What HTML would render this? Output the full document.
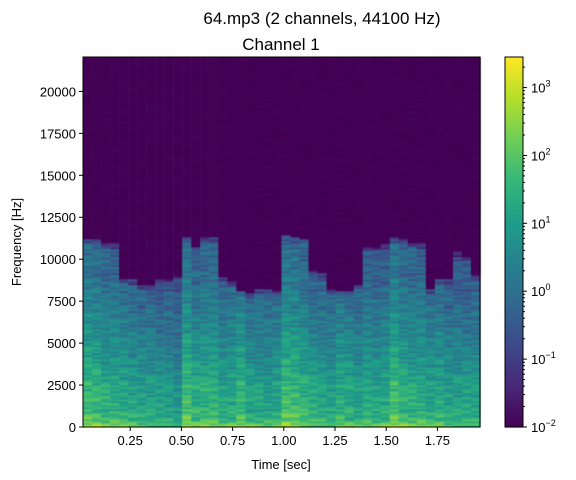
<!DOCTYPE html>
<html><head><meta charset="utf-8"><style>
body{margin:0;background:#fff;width:576px;height:480px;overflow:hidden;position:relative;font-family:"Liberation Sans","DejaVu Sans",sans-serif}
canvas,svg{position:absolute;left:0;top:0}
</style></head><body>
<canvas id="spec" width="576" height="480"></canvas>
<svg id="ax" width="576" height="480"></svg>
<script>
// ---- data ----
const timeRange = [0.0195, 1.958];
const freqMax = 22050;
// cutoff frequency (Hz) above which the spectrum is near-silent, per time frame
const cutoffHz = [11260,11260,10960,10960,8870,8780,8480,8480,8780,8780,9070,11360,10670,11320,11320,8980,8700,8080,7980,8180,8180,8080,11400,11320,11260,9270,9170,8180,8080,8080,8480,10730,10770,10960,11320,11260,11000,10960,8180,8870,8780,10470,10170,9070];
// relative loudness (log10 offset) per time frame
const frameLevel = [0.4,0.3,0.1,0.1,0,-0.1,-0.2,-0.2,-0.3,-0.3,-0.5,0.5,0.1,0.2,0.1,-0.1,0,0.3,-0.1,-0.1,-0.2,-0.1,0.5,0.4,0.2,0,-0.1,-0.2,0.1,0,-0.2,-0.1,-0.1,0,0.5,0.2,0.1,0.1,-0.1,0,-0.2,-0.2,-0.2,-0.2];
// spectral profile: log10 magnitude at 500 Hz steps from 0 to 11500 Hz
const profileLog = [2.3,1.6,1.4,1.3,1.2,1.2,1.0,0.9,0.8,0.7,0.6,0.45,0.35,0.25,0.15,0.05,-0.05,-0.15,-0.25,-0.3,-0.35,-0.4,-0.5,-0.6];
// streak texture offsets (log10) applied across rows
const streak = [0.3,-0.5,0.1,0.5,-0.2,-0.7,0.2,0,0.4,-0.3,0.1,-0.6,0.3,-0.1,0.5,-0.3,0];
const cbTicks = [-2,-1,0,1,2,3];
const xTicks = [0.25,0.5,0.75,1.0,1.25,1.5,1.75];
const yTicks = [0,2500,5000,7500,10000,12500,15000,17500,20000];
// ---- layout ----
const L=83,R=480,T=57,B=427, CBL=505,CBR=523;
const vmin=-2,vmax=3.45;
const xs=t=>L+(t-timeRange[0])/(timeRange[1]-timeRange[0])*(R-L);
const ys=f=>B-f/freqMax*(B-T);
const cy=v=>B-(v-vmin)/(vmax-vmin)*(B-T);
const vir=[[68,1,84],[72,40,120],[62,74,137],[49,104,142],[38,130,142],[31,158,137],[53,183,121],[110,206,88],[181,222,43],[253,231,37]];
function col(u){u=Math.max(0,Math.min(1,u))*(vir.length-1);const i=Math.min(vir.length-2,Math.floor(u)),f=u-i;
 return vir[i].map((c,k)=>Math.round(c+(vir[i+1][k]-c)*f));}
const ctx=document.getElementById('spec').getContext('2d');
const nF=cutoffHz.length, cw=(R-L)/nF, rh=2;
for(let c=0;c<nF;c++){
 for(let r=0;r*rh<(B-T);r++){
  const y=B-(r+1)*rh, f=(r*rh+1)/(B-T)*freqMax;
  let v;
  const s=streak[(r*5+c*c*3+(r>>2)*c)%streak.length];
  if(f>cutoffHz[c]) v=-2+Math.max(0,s)*0.12;
  else{const p=f/500,i=Math.min(profileLog.length-2,Math.floor(p)),fr=p-i;
   v=profileLog[i]+(profileLog[i+1]-profileLog[i])*fr+frameLevel[c]+s*0.8;
   if(cutoffHz[c]-f<300) v-=0.6;
   if(Math.abs(f-2600)<35) v+=0.3;}
  const k=col((v-vmin)/(vmax-vmin));
  ctx.fillStyle=`rgb(${k})`;
  ctx.fillRect(L+c*cw,y,cw+0.6,rh+0.3);
 }
}
for(let y=T;y<B;y++){const k=col((B-y)/(B-T));ctx.fillStyle=`rgb(${k})`;ctx.fillRect(CBL,y,CBR-CBL,1.2);}
// ---- svg axes ----
const svg=document.getElementById('ax');const NS='http://www.w3.org/2000/svg';
function mk(tag,attrs,txt,name){const e=document.createElementNS(NS,tag);for(const a in attrs)e.setAttribute(a,attrs[a]);if(txt!=null)e.textContent=txt;
 
 
 svg.appendChild(e);return e;}
mk('rect',{x:L,y:T,width:R-L,height:B-T,fill:'none',stroke:'#000','stroke-width':1},null,'plot-frame');
mk('rect',{x:CBL,y:T,width:CBR-CBL,height:B-T,fill:'none',stroke:'#000','stroke-width':1},null,'colorbar-frame');
xTicks.forEach(t=>{const x=xs(t);mk('line',{x1:x,x2:x,y1:B,y2:B+4,stroke:'#000'},null,'x-tick');
 mk('text',{x:x,y:B+18,'font-size':13,'text-anchor':'middle'},t.toFixed(2),'x-tick-label');});
yTicks.forEach(f=>{const y=ys(f);mk('line',{x1:L-4,x2:L,y1:y,y2:y,stroke:'#000'},null,'y-tick');
 mk('text',{x:L-7,y:y+5,'font-size':13,'text-anchor':'end'},String(f),'y-tick-label');});
cbTicks.forEach(v=>{const y=cy(v);mk('line',{x1:CBR,x2:CBR+4,y1:y,y2:y,stroke:'#000'},null,'colorbar-tick');
 const t=mk('text',{x:CBR+8,y:y+5,'font-size':13},'10','colorbar-tick-label');
 const s=document.createElementNS(NS,'tspan');s.setAttribute('dy',-6);s.setAttribute('font-size',9);s.textContent=v<0?'\u2212'+(-v):String(v);t.appendChild(s);
 for(let m=2;m<10;m++){const yy=cy(v+Math.log10(m));if(yy>=T)mk('line',{x1:CBR,x2:CBR+2,y1:yy,y2:yy,stroke:'#000'},null,'colorbar-minor-tick');}});
mk('text',{x:322,y:24,'font-size':17,'text-anchor':'middle'},'64.mp3 (2 channels, 44100 Hz)','figure-title');
mk('text',{x:281,y:50,'font-size':17,'text-anchor':'middle'},'Channel 1','axes-title');
mk('text',{x:281,y:469,'font-size':13,'text-anchor':'middle'},'Time [sec]','x-axis-title');
mk('text',{x:21,y:242,'font-size':13,'text-anchor':'middle',transform:'rotate(-90 21 242)'},'Frequency [Hz]','y-axis-title');
</script>
</body></html>
